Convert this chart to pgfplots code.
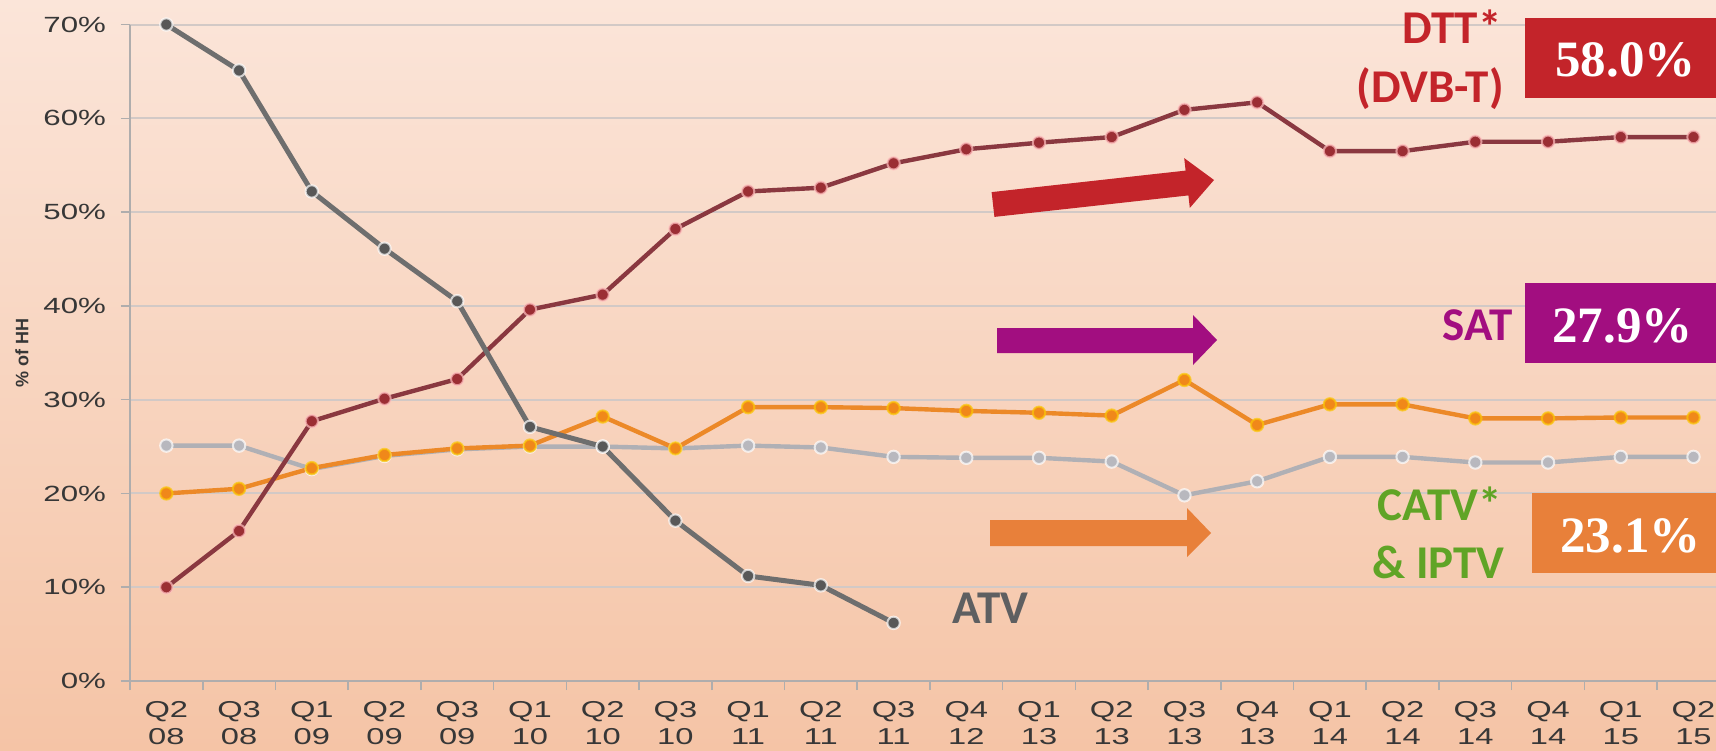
\documentclass[border=0pt]{standalone}
\usepackage{fontspec}
\setmainfont{Liberation Sans}
\newfontfamily\tickfont[FakeStretch=1.42]{Liberation Sans}
\newfontfamily\calfont{Carlito}
\newfontfamily\numfont{Liberation Serif}
\usepackage{pgfplots}
\usepackage{pgfplotstable}
\pgfplotsset{compat=1.18}

\definecolor{bgtop}{RGB}{251,229,217}
\definecolor{bgbot}{RGB}{245,196,166}
\definecolor{gridgray}{RGB}{210,201,198}
\definecolor{axisgray}{RGB}{175,173,173}
\definecolor{tickcol}{RGB}{55,55,55}
\definecolor{atvline}{RGB}{110,110,110}
\definecolor{atvmark}{RGB}{88,88,88}
\definecolor{dttline}{RGB}{138,56,64}
\definecolor{dttmark}{RGB}{155,46,52}
\definecolor{satline}{RGB}{236,137,40}
\definecolor{satmark}{RGB}{240,136,26}
\definecolor{catvline}{RGB}{176,176,181}
\definecolor{catvmark}{RGB}{184,184,190}
\definecolor{dttred}{RGB}{195,36,42}
\definecolor{satmag}{RGB}{162,14,128}
\definecolor{catvorange}{RGB}{232,128,58}
\definecolor{catvgreen}{RGB}{96,164,38}
\definecolor{atvtext}{RGB}{94,95,97}

% x: 0 = Q2 08 ... 21 = Q2 15
\pgfplotstableread{
x y
0 10.0
1 16.0
2 27.7
3 30.1
4 32.2
5 39.6
6 41.2
7 48.2
8 52.2
9 52.6
10 55.2
11 56.7
12 57.4
13 58.0
14 60.9
15 61.7
16 56.5
17 56.5
18 57.5
19 57.5
20 58.0
21 58.0
}\dtt

\pgfplotstableread{
x y
0 20.0
1 20.5
2 22.7
3 24.1
4 24.8
5 25.1
6 28.2
7 24.8
8 29.2
9 29.2
10 29.1
11 28.8
12 28.6
13 28.3
14 32.1
15 27.3
16 29.5
17 29.5
18 28.0
19 28.0
20 28.1
21 28.1
}\sat

\pgfplotstableread{
x y
0 25.1
1 25.1
2 22.6
3 24.0
4 24.7
5 25.0
6 25.0
7 24.8
8 25.1
9 24.9
10 23.9
11 23.8
12 23.8
13 23.4
14 19.8
15 21.3
16 23.9
17 23.9
18 23.3
19 23.3
20 23.9
21 23.9
}\catv

\pgfplotstableread{
x y
0 70.0
1 65.1
2 52.2
3 46.1
4 40.5
5 27.1
6 25.0
7 17.1
8 11.2
9 10.2
10 6.2
}\atv

\begin{document}
\begin{tikzpicture}
\shade[top color=bgtop, bottom color=bgbot] (0pt,0pt) rectangle (858pt,-375pt);

\begin{axis}[
    at={(65pt,-340.5pt)}, anchor=south west,
    scale only axis, width=793pt, height=328.25pt,
    xmin=-0.5, xmax=21.31, ymin=0, ymax=70,
    axis x line*=bottom, axis y line*=left,
    axis line style={draw=axisgray, line width=0.9pt, -},
    xtick={-0.5,0.5,...,20.5}, xticklabels={},
    extra x ticks={0,...,21},
    extra x tick labels={{Q2\\08},{Q3\\08},{Q1\\09},{Q2\\09},{Q3\\09},{Q1\\10},{Q2\\10},{Q3\\10},{Q1\\11},{Q2\\11},{Q3\\11},{Q4\\12},{Q1\\13},{Q2\\13},{Q3\\13},{Q4\\13},{Q1\\14},{Q2\\14},{Q3\\14},{Q4\\14},{Q1\\15},{Q2\\15}},
    extra x tick style={tick style={draw=none}},
    xticklabel style={align=center, font=\tickfont\fontsize{11.5}{13.5}\selectfont, text=tickcol, yshift=-2pt},
    ytick={0,10,...,70},
    yticklabel={\pgfmathprintnumber{\tick}\%},
    yticklabel style={font=\tickfont\fontsize{11}{12}\selectfont, text=tickcol, xshift=-4pt},
    /pgf/number format/assume math mode=true,
    tick align=outside, major tick length=4.5pt,
    tick style={draw=axisgray, line width=0.8pt},
    ymajorgrids, grid style={draw=gridgray, line width=1pt},
    mark size=3.1pt,
]
\addplot[catvline, line width=2.2pt, mark=*, mark options={fill=catvmark, draw=white, draw opacity=0.7, line width=1pt}] table {\catv};
\addplot[satline, line width=2.2pt, mark=*, mark options={fill=satmark, draw=yellow!60!orange, draw opacity=0.7, line width=1pt}] table {\sat};
\addplot[dttline, line width=2.2pt, mark=*, mark options={fill=dttmark, draw=pink, draw opacity=0.7, line width=1pt}] table {\dtt};
\addplot[atvline, line width=2.5pt, mark=*, mark options={fill=atvmark, draw=white, draw opacity=0.7, line width=1pt}] table {\atv};
\end{axis}

\begin{scope}[x=0.5pt, y=-0.5pt]
  % y label
  \node[rotate=90, font=\bfseries\fontsize{9}{10}\selectfont, text=tickcol] at (22,353) {\% of HH};

  % arrows
  \fill[dttred] (991.6,192.1) -- (1185.6,170.6) -- (1184.2,158.1) -- (1214,180)
     -- (1189.8,207.9) -- (1188.4,195.4) -- (994.4,216.9) -- cycle;
  \fill[satmag] (997,328) -- (1193,328) -- (1193,315) -- (1217,340)
     -- (1193,365) -- (1193,353) -- (997,353) -- cycle;
  \fill[catvorange] (990,520) -- (1187,520) -- (1187,508) -- (1211,533)
     -- (1187,557) -- (1187,546) -- (990,546) -- cycle;

  % series names
  \node[anchor=base east, inner sep=0, font=\calfont\bfseries\fontsize{23.5}{28}\selectfont, text=dttred] at (1502,43) {DTT*};
  \node[anchor=base east, inner sep=0, font=\calfont\bfseries\fontsize{23.5}{28}\selectfont, text=dttred] at (1504,102) {(DVB-T)};
  \node[anchor=base east, inner sep=0, font=\calfont\bfseries\fontsize{23.5}{28}\selectfont, text=satmag] at (1513,340) {SAT};
  \node[anchor=base east, inner sep=0, font=\calfont\bfseries\fontsize{23.5}{28}\selectfont, text=catvgreen] at (1502,520) {CATV*};
  \node[anchor=base east, inner sep=0, font=\calfont\bfseries\fontsize{23.5}{28}\selectfont, text=catvgreen] at (1505,578) {\& IPTV};
  \node[anchor=base west, inner sep=0, font=\calfont\bfseries\fontsize{23.5}{28}\selectfont, text=atvtext] at (952,623) {ATV};

  % value boxes
  \fill[dttred] (1525,18) rectangle (1716,98);
  \node[anchor=base west, inner sep=0, font=\numfont\bfseries\fontsize{25.5}{30}\selectfont, text=white] at (1555,76) {58.0\%};
  \fill[satmag] (1525,283) rectangle (1716,363);
  \node[anchor=base west, inner sep=0, font=\numfont\bfseries\fontsize{25.5}{30}\selectfont, text=white] at (1552,342) {27.9\%};
  \fill[catvorange] (1532,493) rectangle (1716,573);
  \node[anchor=base west, inner sep=0, font=\numfont\bfseries\fontsize{25.5}{30}\selectfont, text=white] at (1560,552) {23.1\%};
\end{scope}

\pgfresetboundingbox
\path[use as bounding box] (0pt,0pt) rectangle (858pt,-375pt);
\end{tikzpicture}
\end{document}
